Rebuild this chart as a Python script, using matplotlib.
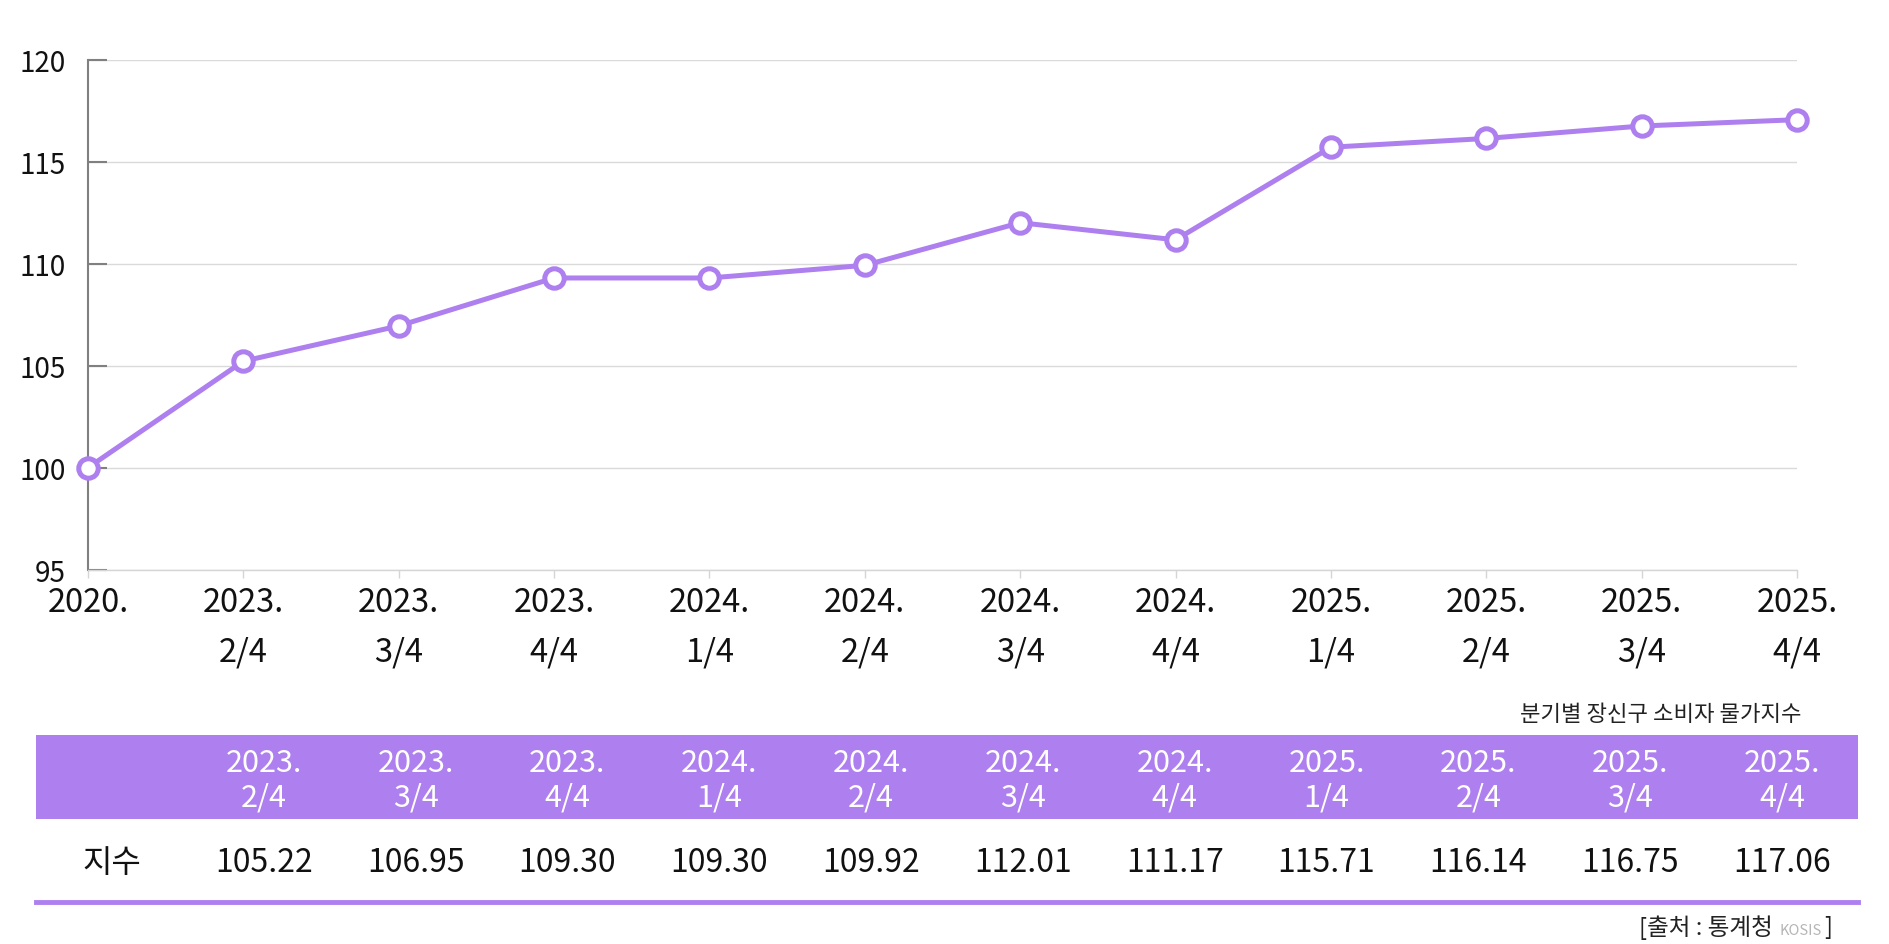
import numpy as np
import matplotlib
matplotlib.use("Agg")
import matplotlib.pyplot as plt
from matplotlib.patches import Rectangle

plt.rcParams['font.family'] = ['Noto Sans CJK KR', 'DejaVu Sans']

# data
quarters = ["2020.", "2023.\n2/4", "2023.\n3/4", "2023.\n4/4", "2024.\n1/4", "2024.\n2/4",
            "2024.\n3/4", "2024.\n4/4", "2025.\n1/4", "2025.\n2/4", "2025.\n3/4", "2025.\n4/4"]
index_values = [100.00, 105.22, 106.95, 109.30, 109.30, 109.92, 112.01, 111.17, 115.71, 116.14, 116.75, 117.06]
yticks = [95, 100, 105, 110, 115, 120]
row_label = "지수"
title = "분기별 장신구 소비자 물가지수"
source_main = "[출처 : 통계청 "
source_small = "KOSIS"

PURPLE = '#AE7FEF'
W, H = 1890, 945

fig = plt.figure(figsize=(W / 100, H / 100), dpi=100)

def px_rect(x0, y0, x1, y1):
    return [x0 / W, 1 - y1 / H, (x1 - x0) / W, (y1 - y0) / H]

# line chart
ax = fig.add_axes(px_rect(88, 60.7, 1797, 570.7))
x = np.arange(len(quarters))
ax.plot(x, index_values, color=PURPLE, lw=3.6, marker='o', ms=14, mfc='white',
        mec=PURPLE, mew=3.6, clip_on=False, zorder=5)
ax.set_xlim(0, len(quarters) - 1)
ax.set_ylim(95, 120)
ax.set_yticks(yticks)
ax.set_xticks(x)
ax.set_xticklabels(quarters, fontsize=23.5, color='#111111', linespacing=1.7)
ax.tick_params(axis='y', direction='in', length=14, width=1.5, color='#808080',
               labelsize=20, pad=16, labelcolor='#111111')
ax.tick_params(axis='x', direction='out', length=6, width=1, color='#d5d5d5', pad=6)
for s in ['top', 'right']:
    ax.spines[s].set_visible(False)
ax.spines['left'].set_color('#808080')
ax.spines['left'].set_linewidth(1.5)
ax.spines['bottom'].set_color('#d5d5d5')
ax.spines['bottom'].set_linewidth(1)
ax.grid(axis='y', color='#dadada', lw=1)
ax.set_axisbelow(True)

# table
tab = fig.add_axes(px_rect(36, 736, 1858, 903))
ncol = len(quarters)
tab.set_xlim(0, ncol)
tab.set_ylim(2, 0)
tab.axis('off')
tab.add_patch(Rectangle((0, 0), ncol, 1, color=PURPLE, lw=0))
tab.axhline(2, color=PURPLE, lw=3.5, clip_on=False)
tab.text(0.5, 1.52, row_label, ha='center', va='center', fontsize=23, color='#111111')
for i in range(1, ncol):
    tab.text(i + 0.5, 0.54, quarters[i], ha='center', va='center', fontsize=22,
             color='white', linespacing=1.15, fontweight='light')
    tab.text(i + 0.5, 1.52, f"{index_values[i]:.2f}", ha='center', va='center',
             fontsize=23, color='#111111')

fig.text(1802 / W, 1 - 715 / H, title, ha='right', va='center', fontsize=16, color='#222222')

# source line
fig.canvas.draw()
r = fig.canvas.get_renderer()
t1 = fig.text(1832 / W, 1 - 928 / H, "]", ha='right', va='center', fontsize=17, color='#222222')
bb = t1.get_window_extent(r)
t2 = fig.text(bb.x0 / W - 0.001, 1 - 931 / H, source_small, ha='right', va='center',
              fontsize=10.5, color='#b5b5b5')
bb = t2.get_window_extent(r)
fig.text(bb.x0 / W - 0.001, 1 - 928 / H, source_main, ha='right', va='center',
         fontsize=17, color='#222222')

fig.savefig("out.png", dpi=100)
